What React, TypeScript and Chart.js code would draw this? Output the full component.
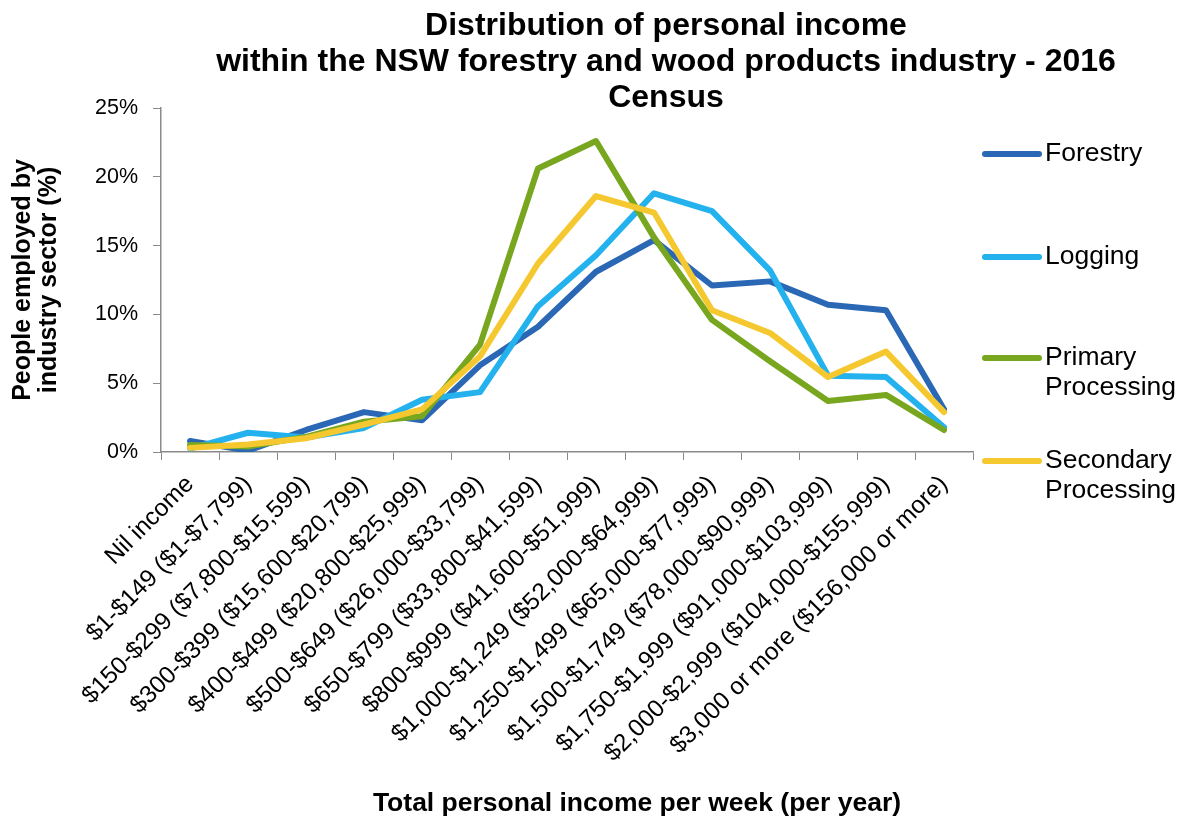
import React, { useEffect, useRef } from "react";
import { Chart, registerables } from "chart.js";

Chart.register(...registerables);

const categories = [
  "Nil income",
  "$1-$149 ($1-$7,799)",
  "$150-$299 ($7,800-$15,599)",
  "$300-$399 ($15,600-$20,799)",
  "$400-$499 ($20,800-$25,999)",
  "$500-$649 ($26,000-$33,799)",
  "$650-$799 ($33,800-$41,599)",
  "$800-$999 ($41,600-$51,999)",
  "$1,000-$1,249 ($52,000-$64,999)",
  "$1,250-$1,499 ($65,000-$77,999)",
  "$1,500-$1,749 ($78,000-$90,999)",
  "$1,750-$1,999 ($91,000-$103,999)",
  "$2,000-$2,999 ($104,000-$155,999)",
  "$3,000 or more ($156,000 or more)",
];

const forestry = [0.8, 0.1, 1.6, 2.9, 2.3, 6.3, 9.1, 13.1, 15.4, 12.1, 12.4, 10.7, 10.3, 3.1];
const logging = [0.25, 1.4, 1.05, 1.75, 3.8, 4.35, 10.6, 14.3, 18.8, 17.5, 13.2, 5.55, 5.45, 1.8];
const primaryProcessing = [0.5, 0.4, 1.1, 2.2, 2.6, 7.8, 20.6, 22.6, 15.6, 9.6, 6.6, 3.7, 4.15, 1.6];
const secondaryProcessing = [0.3, 0.55, 1.0, 2.0, 3.1, 6.95, 13.7, 18.6, 17.4, 10.3, 8.65, 5.45, 7.3, 2.9];

const yTicks = [0, 5, 10, 15, 20, 25];

const titleLines = [
  "Distribution of personal income",
  "within the NSW forestry and wood products industry - 2016",
  "Census",
];
const yTitleLines = ["People employed by", "industry sector (%)"];
const xTitle = "Total personal income per week (per year)";

const seriesNames = [["Forestry"], ["Logging"], ["Primary", "Processing"], ["Secondary", "Processing"]];
const seriesColors = ["#2A68B6", "#24B2EF", "#78A71F", "#F4C82E"];

const FONT = "'Liberation Sans', Arial, sans-serif";

const textPlugin = {
  id: "customText",
  afterDraw(chart: any) {
    const ctx = chart.ctx;
    const area = chart.chartArea;
    ctx.save();
    ctx.fillStyle = "#000";
    // title
    ctx.font = `bold 32px ${FONT}`;
    ctx.textAlign = "center";
    ctx.textBaseline = "alphabetic";
    const tBase = [35, 71, 107];
    titleLines.forEach((l, i) => ctx.fillText(l, 666, tBase[i]));
    // y title
    ctx.font = `bold 25px ${FONT}`;
    const cy = (area.top + area.bottom) / 2;
    const xs = [23, 49];
    yTitleLines.forEach((l, i) => {
      ctx.save();
      ctx.translate(xs[i], cy);
      ctx.rotate(-Math.PI / 2);
      ctx.textAlign = "center";
      ctx.textBaseline = "middle";
      ctx.fillText(l, 0, 0);
      ctx.restore();
    });
    // x title
    ctx.font = `bold 26.5px ${FONT}`;
    ctx.textAlign = "center";
    ctx.textBaseline = "alphabetic";
    ctx.fillText(xTitle, 637, 811);
    // legend
    const legendY = [154, 257, 358, 461];
    ctx.font = `26.5px ${FONT}`;
    ctx.textAlign = "left";
    ctx.textBaseline = "middle";
    seriesNames.forEach((lines, i) => {
      const y = legendY[i];
      ctx.strokeStyle = seriesColors[i];
      ctx.lineWidth = 6;
      ctx.lineCap = "round";
      ctx.beginPath();
      ctx.moveTo(985, y);
      ctx.lineTo(1039, y);
      ctx.stroke();
      ctx.fillStyle = "#000";
      lines.forEach((t, j) => ctx.fillText(t, 1045, y + j * 30));
    });
    ctx.restore();
  },
};

export default function App() {
  const ref = useRef<HTMLCanvasElement | null>(null);
  useEffect(() => {
    if (!ref.current) return;
    const mk = (label: string, data: number[], color: string, order: number) => ({
      label,
      data,
      borderColor: color,
      backgroundColor: color,
      borderWidth: 6,
      pointRadius: 0,
      tension: 0,
      borderJoinStyle: "round" as const,
      borderCapStyle: "round" as const,
      order,
    });
    const chart = new Chart(ref.current, {
      type: "line",
      data: {
        labels: categories,
        datasets: [
          mk("Forestry", forestry, seriesColors[0], 3),
          mk("Logging", logging, seriesColors[1], 2),
          mk("Primary Processing", primaryProcessing, seriesColors[2], 1),
          mk("Secondary Processing", secondaryProcessing, seriesColors[3], 0),
        ],
      },
      options: {
        animation: false,
        responsive: true,
        maintainAspectRatio: false,
        layout: { padding: { left: 0, right: 211, top: 108, bottom: 0 } },
        plugins: {
          legend: { display: false },
          title: { display: false },
          tooltip: { enabled: false },
        },
        scales: {
          x: {
            type: "category",
            offset: true,
            grid: {
              offset: true,
              drawOnChartArea: false,
              drawTicks: true,
              tickLength: 8,
              color: "#8a8a8a",
            },
            border: { color: "#8a8a8a", width: 1.5 },
            ticks: {
              autoSkip: false,
              maxRotation: 45,
              minRotation: 45,
              padding: 10,
              color: "#000",
              font: { family: FONT, size: 24.4 },
            },
            afterFit: (scale: any) => {
              scale.height = 368;
            },
          },
          y: {
            min: 0,
            max: 25,
            afterBuildTicks: (scale: any) => {
              scale.ticks = yTicks.map((v) => ({ value: v }));
            },
            grid: {
              drawOnChartArea: false,
              drawTicks: true,
              tickLength: 8,
              color: "#8a8a8a",
            },
            border: { color: "#8a8a8a", width: 1.5 },
            ticks: {
              padding: 15,
              color: "#000",
              font: { family: FONT, size: 21.5 },
              callback: (v: any) => `${v}%`,
            },
            afterFit: (scale: any) => {
              scale.width = 161;
            },
          },
        },
      },
      plugins: [textPlugin],
    });
    return () => chart.destroy();
  }, []);
  return (
    <div
      style={{
        position: "absolute",
        left: 0,
        top: 0,
        width: 1184,
        height: 820,
        background: "#fff",
      }}
    >
      <canvas ref={ref} />
    </div>
  );
}
